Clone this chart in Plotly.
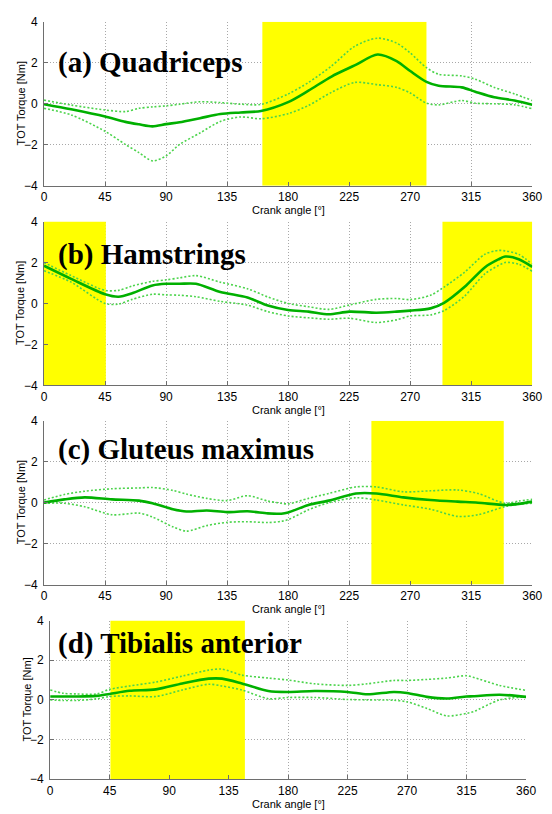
import plotly.graph_objects as go

ANGLE_TICKS = [0, 45, 90, 135, 180, 225, 270, 315, 360]
TORQUE_TICKS = [-4, -2, 0, 2, 4]

TITLES = ["(a) Quadriceps", "(b) Hamstrings", "(c) Gluteus maximus", "(d) Tibialis anterior"]

# Panel a - Quadriceps
quad_x = [0, 20, 45, 60, 70, 80, 90, 100, 115, 130, 145, 160, 180, 195, 212, 229, 246, 260, 270, 282, 291, 308, 318, 332, 347, 360]
quad_mean = [-0.02, -0.27, -0.62, -0.88, -1.0, -1.1, -0.99, -0.9, -0.7, -0.5, -0.42, -0.35, 0.08, 0.64, 1.33, 1.87, 2.4, 2.08, 1.6, 1.07, 0.88, 0.8, 0.59, 0.32, 0.16, -0.05]
quad_upper = [0.18, -0.06, -0.3, -0.38, -0.22, -0.15, -0.1, -0.02, 0.1, 0.06, -0.02, -0.03, 0.48, 1.04, 1.84, 2.8, 3.2, 2.96, 2.48, 1.76, 1.44, 1.36, 1.2, 0.8, 0.48, 0.16]
quad_lower = [-0.22, -0.54, -1.34, -1.98, -2.38, -2.78, -2.54, -1.98, -1.42, -0.86, -0.64, -0.73, -0.48, -0.08, 0.56, 1.04, 0.93, 0.8, 0.53, 0.03, -0.05, 0.16, 0.03, 0.0, -0.05, -0.24]
quad_active = [[161, 282]]

# Panel b - Hamstrings
ham_x = [0, 20, 45, 55, 65, 80, 90, 100, 112, 130, 150, 165, 180, 195, 210, 225, 245, 260, 270, 285, 295, 310, 325, 335, 340, 350, 360]
ham_mean = [1.84, 1.2, 0.45, 0.33, 0.5, 0.88, 0.96, 0.96, 0.96, 0.56, 0.29, -0.1, -0.32, -0.4, -0.53, -0.4, -0.45, -0.4, -0.35, -0.24, 0.03, 0.8, 1.76, 2.15, 2.29, 2.16, 1.79]
ham_upper = [2.0, 1.36, 0.64, 0.64, 0.85, 1.08, 1.15, 1.25, 1.36, 1.04, 0.72, 0.32, 0.0, -0.16, -0.29, -0.08, 0.2, 0.24, 0.19, 0.4, 0.8, 1.52, 2.4, 2.59, 2.57, 2.4, 1.92]
ham_lower = [1.6, 1.04, 0.0, -0.03, 0.2, 0.45, 0.42, 0.4, 0.33, 0.1, -0.08, -0.4, -0.61, -0.7, -0.77, -0.72, -0.93, -0.8, -0.61, -0.56, -0.35, 0.35, 1.44, 1.85, 2.0, 1.92, 1.57]
ham_active = [[0, 45.6], [293.8, 360]]

# Panel c - Gluteus maximus
glu_x = [0, 15, 30, 50, 70, 80, 95, 105, 120, 135, 150, 165, 175, 180, 195, 210, 230, 245, 265, 285, 305, 320, 340, 350, 360]
glu_mean = [0.0, 0.16, 0.26, 0.16, 0.1, -0.03, -0.32, -0.43, -0.38, -0.46, -0.42, -0.52, -0.54, -0.48, -0.11, 0.1, 0.45, 0.45, 0.26, 0.13, 0.05, 0.0, -0.11, -0.06, 0.05]
glu_upper = [0.13, 0.4, 0.56, 0.68, 0.72, 0.74, 0.6, 0.42, 0.21, 0.1, 0.34, 0.08, -0.03, -0.06, 0.21, 0.45, 0.77, 0.77, 0.53, 0.58, 0.62, 0.45, -0.03, 0.08, 0.16]
glu_lower = [-0.03, -0.03, -0.2, -0.59, -0.51, -0.7, -1.18, -1.39, -1.12, -0.96, -0.93, -0.97, -0.91, -0.83, -0.35, 0.0, 0.24, 0.13, -0.11, -0.32, -0.67, -0.59, -0.19, -0.08, -0.03]
glu_active = [[241.4, 339]]

# Panel d - Tibialis anterior
tib_x = [0, 10, 20, 35, 45, 60, 80, 100, 120, 130, 145, 165, 180, 200, 225, 240, 260, 270, 285, 300, 315, 320, 340, 360]
tib_mean = [0.17, 0.17, 0.17, 0.2, 0.3, 0.46, 0.53, 0.83, 1.07, 1.07, 0.83, 0.45, 0.4, 0.45, 0.4, 0.28, 0.4, 0.35, 0.15, 0.07, 0.17, 0.18, 0.26, 0.15]
tib_upper = [0.5, 0.33, 0.3, 0.3, 0.53, 0.7, 0.9, 1.2, 1.5, 1.55, 1.25, 1.1, 1.0, 0.81, 0.73, 0.81, 0.98, 0.98, 1.03, 1.1, 1.22, 1.14, 0.73, 0.48]
tib_lower = [0.0, -0.03, -0.03, 0.05, 0.17, 0.2, 0.17, 0.5, 0.79, 0.7, 0.5, 0.06, 0.12, 0.12, 0.02, 0.0, -0.02, -0.1, -0.43, -0.81, -0.68, -0.6, 0.0, 0.15]
tib_active = [[45.6, 147.3]]

panels = [
    (quad_x, quad_mean, quad_upper, quad_lower, quad_active),
    (ham_x, ham_mean, ham_upper, ham_lower, ham_active),
    (glu_x, glu_mean, glu_upper, glu_lower, glu_active),
    (tib_x, tib_mean, tib_upper, tib_lower, tib_active),
]

W, H = 552, 814
# plot-area pixel boxes: (left, right, top, bottom)
boxes = [
    (42, 542, 15, 182),
    (42, 542, 218.3, 385),
    (42, 542, 421, 587.7),
    (48.3, 535.7, 624.3, 785.7),
]
title_y = [2.0, 2.39, 2.62, 2.83]

MEAN_COLOR = "#00b000"
SD_COLOR = "#4cd44c"
YELLOW = "#ffff00"

fig = go.Figure()
layout = dict(
    width=W, height=H, margin=dict(l=0, r=0, t=0, b=0),
    paper_bgcolor="white", plot_bgcolor="white", showlegend=False,
    annotations=[],
)

for i, ((xs, mean, up, lo, active), (l, r, t, b)) in enumerate(zip(panels, boxes)):
    n = "" if i == 0 else str(i + 1)
    xa, ya = "x" + n, "y" + n
    for a0, a1 in active:
        fig.add_trace(go.Scatter(
            x=[a0, a1, a1, a0, a0], y=[-4, -4, 4, 4, -4], xaxis=xa, yaxis=ya,
            mode="lines", fill="toself", fillcolor=YELLOW, line=dict(width=0),
            hoverinfo="skip"))
    for ys in (up, lo):
        fig.add_trace(go.Scatter(
            x=xs, y=ys, xaxis=xa, yaxis=ya, mode="lines",
            line=dict(color=SD_COLOR, width=1.6, dash="2px,2px", shape="spline", smoothing=0.8)))
    fig.add_trace(go.Scatter(
        x=xs, y=mean, xaxis=xa, yaxis=ya, mode="lines",
        line=dict(color=MEAN_COLOR, width=2.6, shape="spline", smoothing=0.8)))

    axcommon = dict(
        showgrid=True, gridcolor="#a8a8a8", griddash="1px,2px", gridwidth=1,
        showline=True, linecolor="#6e6e6e", linewidth=1, mirror=False,
        ticks="inside", ticklen=4, tickcolor="#6e6e6e", zeroline=False,
        tickfont=dict(family="Liberation Sans, Arial", size=12, color="black"),
        layer="above traces",
    )
    layout["xaxis" + n] = dict(
        axcommon, domain=[l / W, r / W], range=[0, 360], tickvals=ANGLE_TICKS,
        anchor=ya, ticklabelstandoff=0)
    layout["yaxis" + n] = dict(
        axcommon, domain=[1 - b / H, 1 - t / H], range=[-4, 4], tickvals=TORQUE_TICKS,
        anchor=xa, ticklabelstandoff=3)

    layout["annotations"].append(dict(
        text="<b>" + TITLES[i] + "</b>", xref=xa + " domain", yref=ya,
        x=(54 - l) / (r - l), y=title_y[i], xanchor="left", yanchor="middle",
        showarrow=False, font=dict(family="Liberation Serif", size=29, color="black")))
    layout["annotations"].append(dict(
        text="TOT Torque [Nm]", xref="paper", yref="paper",
        x=(l - 24) / W, y=1 - (t + b) / 2 / H, textangle=-90,
        xanchor="center", yanchor="middle", showarrow=False,
        font=dict(family="Liberation Sans, Arial", size=11, color="black")))
    layout["annotations"].append(dict(
        text="Crank angle [°]", xref="paper", yref="paper",
        x=(l + r) / 2 / W, y=1 - (b + 25) / H,
        xanchor="center", yanchor="middle", showarrow=False,
        font=dict(family="Liberation Sans, Arial", size=11, color="black")))

fig.update_layout(**layout)
fig.write_html("out.html")
